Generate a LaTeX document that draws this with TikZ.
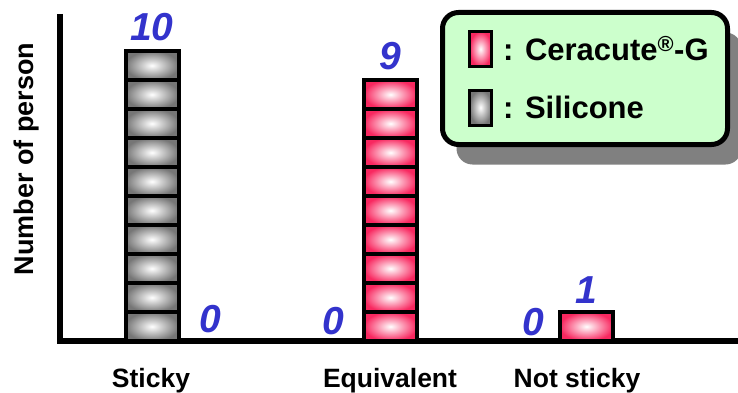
\documentclass[tikz,border=0pt]{standalone}
\usepackage{fontspec}
\setmainfont{Liberation Sans}
\usepackage{tikz}
\usetikzlibrary{positioning}
\definecolor{pinkbar}{RGB}{248,40,96}
\definecolor{greybar}{RGB}{118,118,118}
\definecolor{valblue}{RGB}{51,51,204}
\definecolor{legendgreen}{RGB}{204,255,204}
\definecolor{shadowgrey}{RGB}{128,128,128}

\begin{document}
\begin{tikzpicture}[x=1pt,y=1pt]
	\tikzstyle{cell}=[rectangle,draw,line width=4pt,minimum width=53pt,minimum height=29pt,inner sep=0pt]
	\tikzstyle{pinkcell}=[cell,inner color=white,outer color=pinkbar]
	\tikzstyle{greycell}=[cell,inner color=white,outer color=greybar]
	\tikzstyle{val}=[text=valblue,font=\fontsize{39}{39}\selectfont\bfseries\itshape,inner sep=1pt]
	\tikzstyle{cat}=[font=\fontsize{26.5}{30}\selectfont\bfseries,anchor=base,inner sep=0pt]
	\tikzstyle{swatch}=[rectangle,draw,line width=3pt,minimum width=22pt,minimum height=35pt,inner sep=0pt]
	\tikzstyle{legtext}=[font=\fontsize{31}{34}\selectfont\bfseries,inner sep=2pt]
	\useasboundingbox (0,0) rectangle (738,392);
		\node[fill=shadowgrey, rounded corners=16pt, minimum width=285pt, minimum height=132pt] (shadow) at (599,293.5) {};
		\node[draw, line width=5pt, fill=legendgreen, rounded corners=16pt, minimum width=285pt, minimum height=132pt] (legend) at (585,313.5) {};
		\node[swatch, inner color=white, outer color=pinkbar] (pinksw) at (480.5,343) {};
		\node[legtext, right=8pt of pinksw] (pinklab) {: Ceracute\textsuperscript{®}-G};
		\node[swatch, inner color=white, outer color=greybar] (greysw) at (480.5,284.5) {};
		\node[legtext, right=8pt of greysw] (greylab) {: Silicone};
		\coordinate (ytop) at (60,378);
		\coordinate (origin) at (60,51);
		\coordinate (xend) at (738,51);
			\draw[line width=5.5pt] (ytop) -- (origin) -- (xend);
		\foreach \i in {1,...,10}
			\node[greycell] (stk\i) at (152,36.5+29*\i) {};
		\foreach \i in {1,...,9}
			\node[pinkcell] (eqv\i) at (390.5,36.5+29*\i) {};
		\node[pinkcell] (nst1) at (586.5,65.5) {};
		\node[val, above=7pt of stk10] (stkval) {10};
		\node[val, above=7pt of eqv9] (eqvval) {9};
		\node[val, above=5pt of nst1] (nstval) {1};
		\node[val] (stkzero) at (210,73) {0};
		\node[val] (eqvzero) at (333,71) {0};
		\node[val] (nstzero) at (533,70) {0};
		\node[cat] (sticky) at (151,4.5) {Sticky};
		\node[cat] (equiv) at (390,4.5) {Equivalent};
		\node[cat] (notsticky) at (577,4.5) {Not sticky};
		\node[cat, font=\fontsize{27}{30}\selectfont\bfseries, rotate=90] (ylab) at (33,233) {Number of person};
\end{tikzpicture}
\end{document}
